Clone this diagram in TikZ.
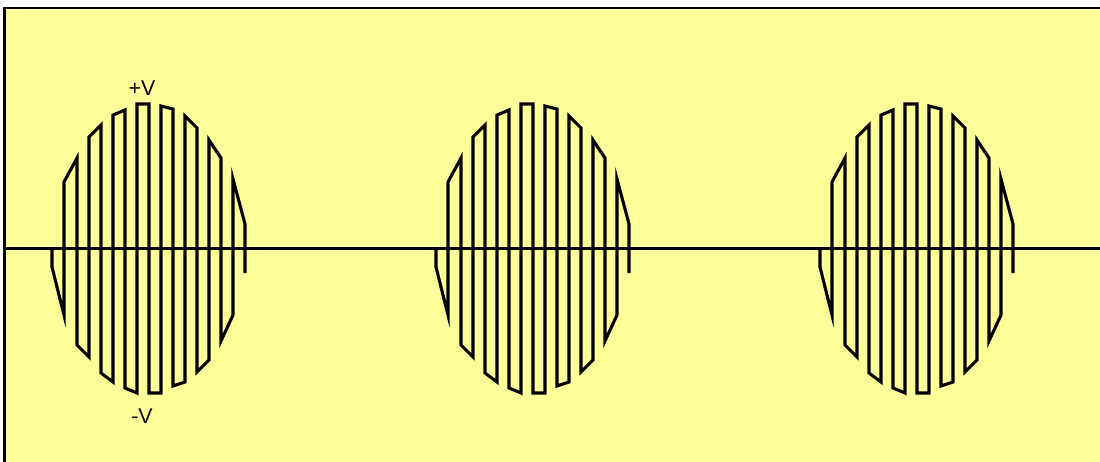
\documentclass[tikz,border=0pt]{standalone}
\usepackage{fontspec}
\setmainfont{Liberation Sans}
\definecolor{bgyellow}{HTML}{FFFF99}
\newcommand\burstpath{(52,248.5) -- (52,267) -- (64,315) -- (64,182) -- (77,158) -- (77,345) -- (89,357) -- (89,137) -- (101,125) -- (101,373) -- (113,382) -- (113,115) -- (125,110) -- (125,388) -- (137,393) -- (137,104) -- (149,104) -- (149,393) -- (161,393) -- (161,106) -- (173,109) -- (173,386) -- (185,382) -- (185,116) -- (197,128) -- (197,372) -- (209,360) -- (209,140) -- (221,158) -- (221,341) -- (233,315) -- (233,179) -- (245,224) -- (245,273)}
\tikzset{
  wave/.style={line width=2.3pt, line join=miter, black},
  axisline/.style={line width=2.3pt, black},
  framebox/.style={line width=2.1pt, black},
  vlabel/.style={font=\fontsize{16}{18}\selectfont, inner sep=0pt}
}
\begin{document}
\begin{tikzpicture}[x=0.75pt, y=-0.75pt]
\useasboundingbox (0,0) rectangle (1100,461);
\begin{scope}
\clip (0,0) rectangle (1100,461);
\fill[bgyellow] (4.7,8) rectangle (1110,470);
\draw[framebox] (4.7,470) -- (4.7,8) -- (1110,8);
\coordinate (axL) at (5,248.5);
\coordinate (axR) at (1100,248.5);
\draw[axisline] (axL) -- (axR);
\foreach \dx in {0,384,768} {
  \draw[wave, shift={(\dx,0)}] \burstpath;
}
\end{scope}
\node[vlabel] (pv) at (142,88) {+V};
\node[vlabel] (nv) at (142,416) {-V};
\end{tikzpicture}
\end{document}
